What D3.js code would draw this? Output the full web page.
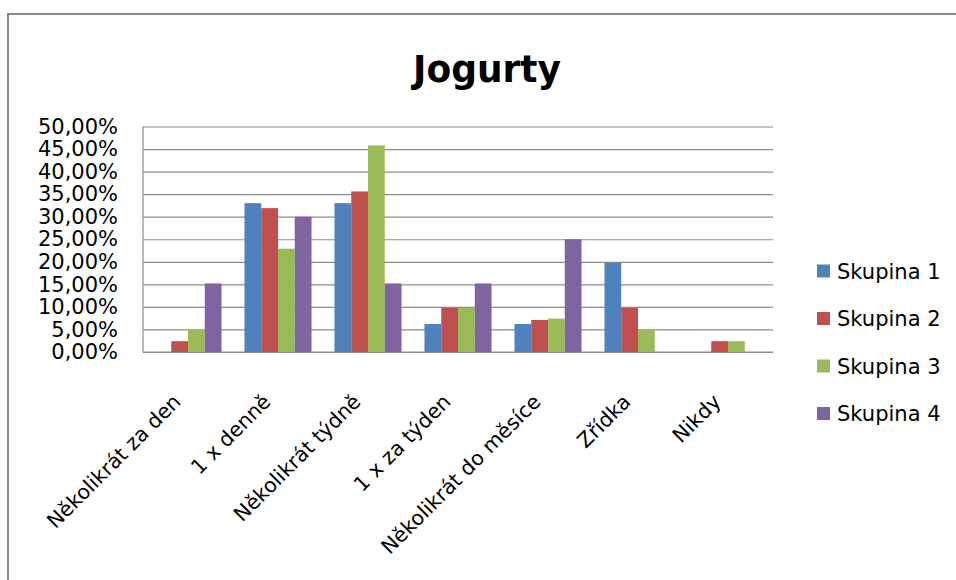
<!DOCTYPE html>
<html>
<head>
<meta charset="utf-8" />
<style>
body { margin: 0; background-color: #FFF; }
#chart { width: 956px; height: 580px; }
text { font-family: "DejaVu Sans", sans-serif; fill: #000; }
</style>
<title>Jogurty</title>
</head>
<body>
<div id="chart"></div>
<script src="https://d3js.org/d3.v7.min.js"></script>
<script>

// data (percent)
var categories = ["Několikrát za den", "1 x denně", "Několikrát týdně", "1 x za týden",
                  "Několikrát do měsíce", "Zřídka", "Nikdy"];
var seriesNames = ["Skupina 1", "Skupina 2", "Skupina 3", "Skupina 4"];
var skupina1 = [0, 33.0, 33.0, 6.2, 6.2, 19.8, 0];
var skupina2 = [2.4, 31.9, 35.6, 9.8, 7.1, 9.8, 2.4];
var skupina3 = [5.0, 22.9, 45.8, 9.8, 7.4, 5.0, 2.4];
var skupina4 = [15.2, 30.0, 15.2, 15.2, 25.0, 0, 0];
var yTicks = [0, 5, 10, 15, 20, 25, 30, 35, 40, 45, 50];
var colors = ["#4F81BD", "#C0504D", "#9BBB59", "#8064A2"];

var series = [skupina1, skupina2, skupina3, skupina4];

var W = 956, H = 580;
var plot = {left: 143, right: 773, top: 126.5, bottom: 352};

var svg = d3.select("#chart").append("svg")
    .attr("width", W)
    .attr("height", H);

// outer frame (top + left edge only visible)
svg.append("path")
    .attr("d", "M8,580 V14 H956")
    .attr("fill", "none")
    .attr("stroke", "#8a8a8a")
    .attr("stroke-width", 2);

svg.append("text")
    .attr("x", 487)
    .attr("y", 82)
    .attr("text-anchor", "middle")
    .attr("font-size", 38)
    .attr("font-weight", "bold")
    .attr("textLength", 148)
    .attr("lengthAdjust", "spacingAndGlyphs")
    .text("Jogurty");

var x0 = d3.scaleBand()
    .domain(categories)
    .range([plot.left, plot.right])
    .paddingInner(0.255)
    .paddingOuter(0.1275);

var x1 = d3.scaleBand()
    .domain(d3.range(series.length))
    .range([0, x0.bandwidth()]);

var y = d3.scaleLinear()
    .domain([0, 50])
    .range([plot.bottom, plot.top]);

// gridlines
svg.append("g")
    .attr("transform", "translate(" + plot.left + ",0)")
    .call(d3.axisLeft(y).tickValues(yTicks).tickSize(-(plot.right - plot.left)).tickFormat(""))
    .call(function(g) {
        g.select(".domain").remove();
        g.selectAll("line").attr("stroke", "#8c8c8c").attr("stroke-width", 1.2);
    });

// plot border (left edge + bottom)
svg.append("path")
    .attr("d", "M" + plot.left + "," + y(50) + " V" + y(0) + " H" + plot.right)
    .attr("fill", "none")
    .attr("stroke", "#8c8c8c")
    .attr("stroke-width", 1.2);

// y labels
svg.append("g")
    .attr("transform", "translate(118,0)")
    .call(d3.axisLeft(y).tickValues(yTicks).tickSize(0).tickPadding(0)
        .tickFormat(function(d) { return d3.format(".2f")(d).replace(".", ",") + "%"; }))
    .call(function(g) {
        g.select(".domain").remove();
        g.selectAll("text")
            .attr("font-family", "DejaVu Sans, sans-serif")
            .attr("font-size", 21)
            .attr("fill", "#000");
    });

// bars
var groups = svg.append("g").selectAll("g")
    .data(series)
    .join("g")
    .attr("fill", function(d, i) { return colors[i]; });

groups.each(function(vals, si) {
    d3.select(this).selectAll("rect")
        .data(vals)
        .join("rect")
        .attr("x", function(d, ci) { return x0(categories[ci]) + x1(si); })
        .attr("width", x1.bandwidth())
        .attr("y", function(d) { return y(d); })
        .attr("height", function(d) { return y(0) - y(d); });
});

// category labels, rotated
svg.append("g").selectAll("text")
    .data(categories)
    .join("text")
    .attr("text-anchor", "end")
    .attr("font-size", 20.5)
    .attr("transform", function(d) {
        var cx = x0(d) + x0.bandwidth() / 2 - 6;
        return "translate(" + cx + ",403) rotate(-45)";
    })
    .text(function(d) { return d; });

// legend
var legend = svg.append("g").selectAll("g")
    .data(seriesNames)
    .join("g")
    .attr("transform", function(d, i) { return "translate(817," + (271 + i * 47.5) + ")"; });

legend.append("rect")
    .attr("x", 0)
    .attr("y", -6.5)
    .attr("width", 13)
    .attr("height", 13)
    .attr("fill", function(d, i) { return colors[i]; });

legend.append("text")
    .attr("x", 20)
    .attr("y", 7.5)
    .attr("font-size", 21)
    .text(function(d) { return d; });

</script>
</body>
</html>
